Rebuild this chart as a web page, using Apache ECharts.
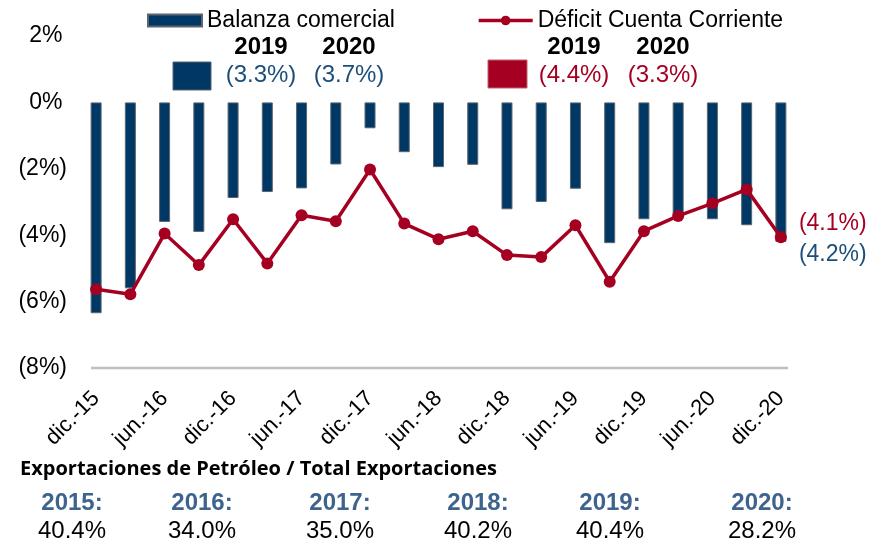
<!DOCTYPE html>
<html>
<head>
<meta charset="utf-8">
<script src="https://cdn.jsdelivr.net/npm/echarts@6/dist/echarts.min.js"></script>
<style>
    html, body { margin: 0; padding: 0; background: #fff; }
    #main { width: 871px; height: 543px; }
</style>
</head>
<body>
<div id="main"></div>
<script type="text/javascript">
    var periods = ['dic.-15', 'mar.-16', 'jun.-16', 'sep.-16', 'dic.-16', 'mar.-17', 'jun.-17', 'sep.-17',
        'dic.-17', 'mar.-18', 'jun.-18', 'sep.-18', 'dic.-18', 'mar.-19', 'jun.-19', 'sep.-19',
        'dic.-19', 'mar.-20', 'jun.-20', 'sep.-20', 'dic.-20'];
    var balanza = [-6.35, -5.6, -3.6, -3.9, -2.88, -2.7, -2.59, -1.87, -0.78, -1.5, -1.95, -1.88,
        -3.22, -3.0, -2.6, -4.24, -3.52, -3.4, -3.52, -3.7, -4.2];
    var deficit = [-5.63, -5.78, -3.95, -4.9, -3.52, -4.85, -3.4, -3.58, -2.02, -3.65, -4.12, -3.88,
        -4.6, -4.66, -3.7, -5.4, -3.88, -3.42, -3.04, -2.62, -4.06];
    var annualYears = ['2019', '2020'];
    var balanzaAnnual = [-3.3, -3.7];
    var deficitAnnual = [-4.4, -3.3];
    var oilYears = ['2015:', '2016:', '2017:', '2018:', '2019:', '2020:'];
    var oilShare = ['40.4%', '34.0%', '35.0%', '40.2%', '40.4%', '28.2%'];

    var blue = '#003865';
    var blueText = '#1B4F7A';
    var red = '#A50021';
    var font = 'Liberation Sans, Arial, sans-serif';
    var last = periods.length - 1;

    function pct(v) {
        return v < 0 ? '(' + Math.abs(v).toFixed(1) + '%)' : v.toFixed(1) + '%';
    }

    // etiqueta al final de cada serie
    function endMark(v, color, offset) {
        return {
            symbol: 'circle',
            symbolSize: 0,
            data: [{
                coord: [periods[last], v],
                label: {
                    show: true, position: 'right', distance: 0, offset: offset,
                    formatter: pct(v), color: color, fontSize: 23, fontFamily: font
                }
            }]
        };
    }

    var graphics = [];
    var yearX = [[261, 349], [574, 663]];
    annualYears.forEach(function (y, i) {
        graphics.push({ type: 'text', x: yearX[0][i], y: 47, style: { text: y, font: 'bold 24px ' + font, fill: '#000', align: 'center', verticalAlign: 'middle' } });
        graphics.push({ type: 'text', x: yearX[1][i], y: 47, style: { text: y, font: 'bold 24px ' + font, fill: '#000', align: 'center', verticalAlign: 'middle' } });
        graphics.push({ type: 'text', x: yearX[0][i], y: 75, style: { text: pct(balanzaAnnual[i]), font: '24px ' + font, fill: blueText, align: 'center', verticalAlign: 'middle' } });
        graphics.push({ type: 'text', x: yearX[1][i], y: 75, style: { text: pct(deficitAnnual[i]), font: '24px ' + font, fill: red, align: 'center', verticalAlign: 'middle' } });
    });
    graphics.push({ type: 'rect', shape: { x: 173, y: 62, width: 38, height: 28 }, style: { fill: blue, stroke: '#5a6570', lineWidth: 1 } });
    graphics.push({ type: 'rect', shape: { x: 488, y: 60, width: 39, height: 28 }, style: { fill: red, stroke: '#c06070', lineWidth: 1 } });
    // línea base del eje
    graphics.push({ type: 'line', shape: { x1: 91, y1: 368, x2: 788, y2: 368 }, style: { stroke: '#BFBFBF', lineWidth: 2.5 } });

    graphics.push({ type: 'text', x: 20, y: 469, style: { text: 'Exportaciones de Petróleo / Total Exportaciones', font: 'bold 20px Open Sans, sans-serif', fill: '#000', verticalAlign: 'middle' } });
    var oilX = [72, 202, 340, 478, 610, 762];
    oilYears.forEach(function (y, i) {
        graphics.push({ type: 'text', x: oilX[i], y: 503, style: { text: y, font: 'bold 24px ' + font, fill: '#3E648D', align: 'center', verticalAlign: 'middle' } });
        graphics.push({ type: 'text', x: oilX[i], y: 531, style: { text: oilShare[i], font: '24px ' + font, fill: '#000', align: 'center', verticalAlign: 'middle' } });
    });

    var myChart = echarts.init(document.getElementById('main'));

    option = {
        animation: false,
        textStyle: { fontFamily: font },
        legend: {
            left: 142,
            top: 4,
            itemWidth: 54,
            itemHeight: 12,
            itemGap: 82,
            textStyle: { fontSize: 23, color: '#000', fontFamily: font },
            data: [
                { name: 'Balanza comercial', icon: 'rect' },
                { name: 'Déficit Cuenta Corriente', lineStyle: { width: 3.5 } }
            ]
        },
        grid: { left: 79, right: 73, top: 36, bottom: 175, containLabel: false },
        xAxis: [{
            type: 'category',
            data: periods,
            axisLine: { show: false, onZero: false },
            axisTick: { show: false },
            axisLabel: { interval: 1, rotate: 45, fontSize: 22, color: '#000', margin: 27, fontFamily: font }
        }],
        yAxis: [{
            type: 'value',
            min: -8,
            max: 2,
            interval: 2,
            axisLine: { show: false },
            axisTick: { show: false },
            splitLine: { show: false },
            axisLabel: {
                fontSize: 23, color: '#000', margin: 12, fontFamily: font,
                formatter: function (v) { return v < 0 ? '(' + Math.abs(v) + '%)' : v + '%\u2009'; }
            }
        }],
        series: [{
            name: 'Balanza comercial',
            type: 'bar',
            barWidth: 11,
            itemStyle: { color: blue, borderColor: '#5a6570', borderWidth: 1 },
            data: balanza,
            markPoint: endMark(balanza[last], blueText, [18, 13])
        }, {
            name: 'Déficit Cuenta Corriente',
            type: 'line',
            symbol: 'circle',
            symbolSize: 12,
            lineStyle: { color: red, width: 3.5 },
            itemStyle: { color: red },
            data: deficit,
            markPoint: endMark(deficit[last], red, [18, -14])
        }],
        graphic: graphics
    };

    myChart.setOption(option);
</script>
</body>
</html>
